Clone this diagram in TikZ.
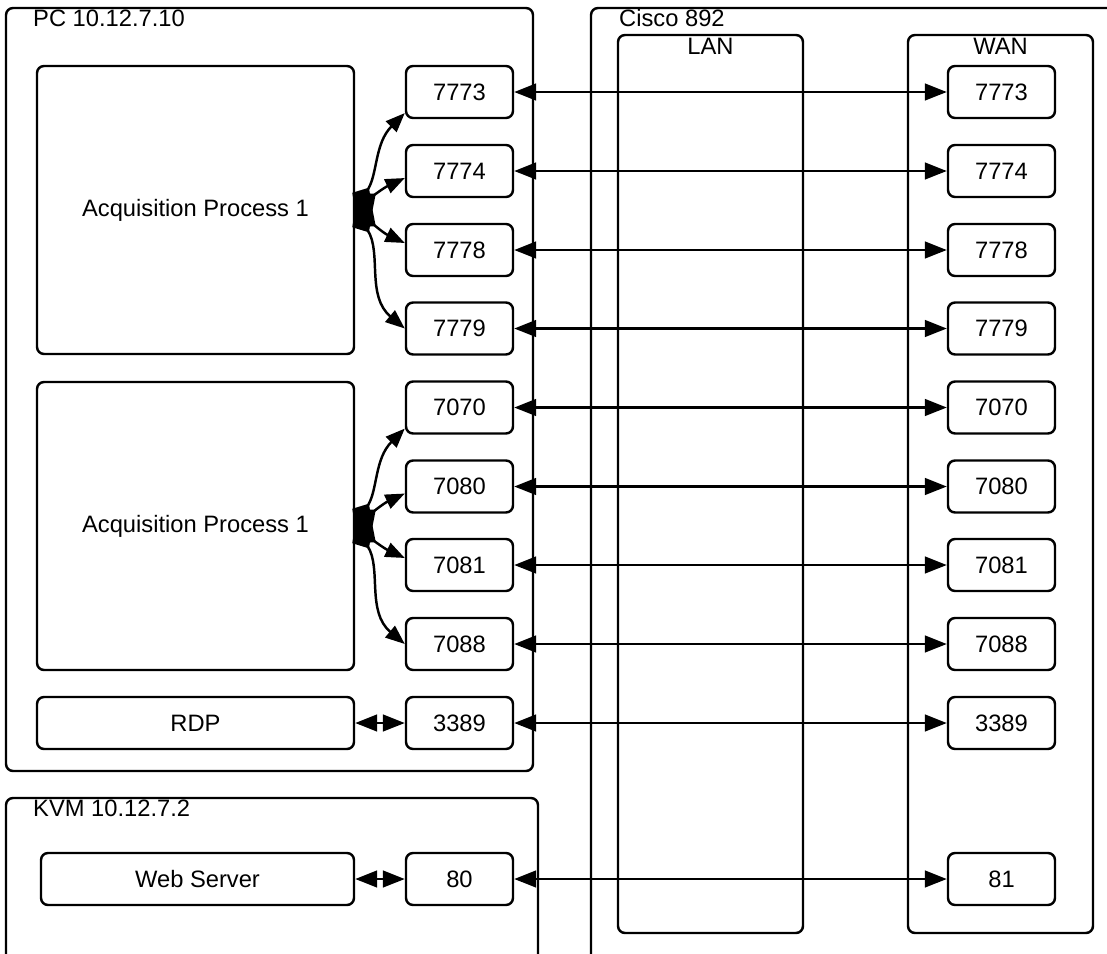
\documentclass[tikz,border=0pt]{standalone}
\usepackage{fontspec}
\setmainfont{Liberation Sans}
\usetikzlibrary{arrows.meta,fit}

\tikzset{
  box/.style={draw,rounded corners=4pt,inner sep=0pt},
  port/.style={draw,rounded corners=4pt,minimum width=2.14cm,minimum height=1.04cm,inner sep=0pt},
  link/.style={{Triangle[length=12.5pt,width=9.5pt]}-{Triangle[length=12.5pt,width=9.5pt]}},
  fan/.style={{Diamond[length=15pt,width=13pt]}-{Triangle[length=11pt,width=8.5pt]}},
  tag/.style={anchor=base west,inner sep=0pt},
}

\begin{document}
\begin{tikzpicture}[x=0.02cm,y=-0.02cm,line width=1.4pt,font=\fontsize{13.5}{16}\selectfont]
  \useasboundingbox (0,0) rectangle (1107,954);
  \clip (0,0) rectangle (1107,954);

  % gruppen
  \node[box,fit={(6,8) (533,771)}] (pc) {};
  \node[box,fit={(6,798) (538,990)}] (kvm) {};
  \node[box,fit={(591,8) (1140,990)}] (cisco) {};
  \node[box,fit={(618,35) (803,933)}] (lan) {};
  \node[box,fit={(908,35) (1093,933)}] (wan) {};

  \node[tag] (pctag) at (32,26) {PC 10.12.7.10};
  \node[tag] (kvmtag) at (32,816) {KVM 10.12.7.2};
  \node[tag] (ciscotag) at (618,26) {Cisco 892};
  \node[anchor=base,inner sep=0pt] (lantag) at (710.5,54) {LAN};
  \node[anchor=base,inner sep=0pt] (wantag) at (1000.5,54) {WAN};

  % prozesse
  \node[box,fit={(37,66) (354,354)}] (acq1) {};
  \node[box,fit={(37,382) (354,670)}] (acq2) {};
  \node[box,fit={(37,697) (354,749)}] (rdp) {};
  \node[box,fit={(41,853) (354,905)}] (web) {};
  \node (acq1txt) at (acq1.center) {Acquisition Process 1};
  \node (acq2txt) at (acq2.center) {Acquisition Process 1};
  \node (rdptxt) at (rdp.center) {RDP};
  \node (webtxt) at (web.center) {Web Server};

  % ports und weiterleitung
  \foreach \p/\y in {7773/92,7774/171,7778/250,7779/328.5,7070/407.5,7080/486.5,7081/565,7088/644,3389/723} {
    \node[port] (l\p) at (459.5,\y) {\p};
    \node[port] (w\p) at (1001.5,\y) {\p};
    \draw[link] (l\p) -- (w\p);
  }
  \node[port] (l80) at (459.5,879) {80};
  \node[port] (w81) at (1001.5,879) {81};
  \draw[link] (l80) -- (w81);

  \draw[link] (rdp) -- (l3389);
  \draw[link] (web) -- (l80);

  % verteiler
  \coordinate (hub1) at (355,210);
  \coordinate (hub2) at (355,526);
  \draw[fan] (hub1) to[out=58,in=225] ([yshift=-12pt]l7773.west);
  \draw[fan] (hub1) to[out=38,in=205] ([yshift=-4pt]l7774.west);
  \draw[fan] (hub1) to[out=-38,in=155] ([yshift=4pt]l7778.west);
  \draw[fan] (hub1) to[out=-58,in=140] (l7779.west);
  \draw[fan] (hub2) to[out=58,in=225] ([yshift=-12pt]l7070.west);
  \draw[fan] (hub2) to[out=38,in=205] ([yshift=-4pt]l7080.west);
  \draw[fan] (hub2) to[out=-38,in=155] ([yshift=4pt]l7081.west);
  \draw[fan] (hub2) to[out=-58,in=140] (l7088.west);
\end{tikzpicture}
\end{document}
